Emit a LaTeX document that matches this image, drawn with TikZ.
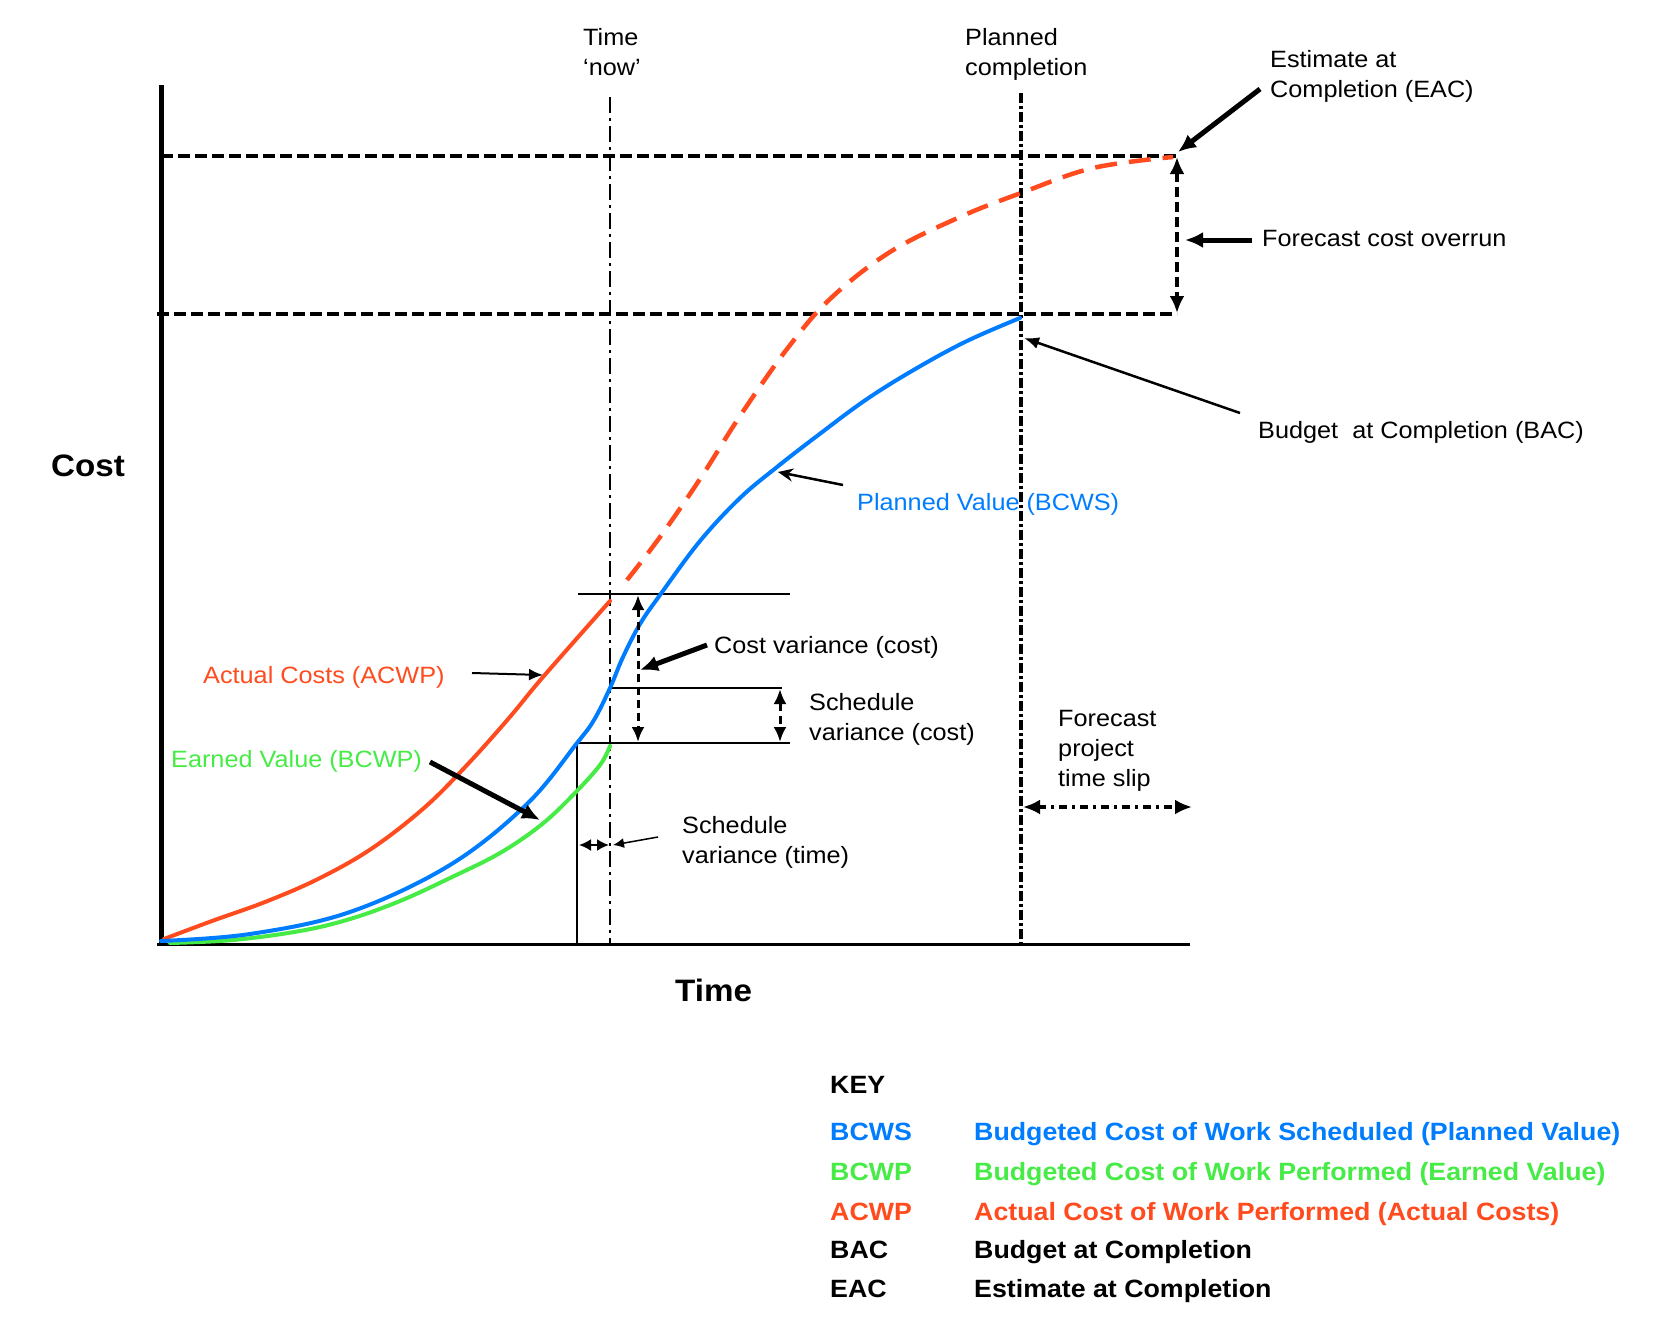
\documentclass[tikz,border=0pt]{standalone}
\usepackage{fontspec}
\setmainfont[FakeStretch=1.07]{Liberation Sans}
\usetikzlibrary{arrows.meta}
\definecolor{pvblue}{RGB}{0,125,255}
\definecolor{evgreen}{RGB}{70,235,70}
\definecolor{acred}{RGB}{255,75,30}
\begin{document}
\begin{tikzpicture}[x=1pt,y=-1pt,
    lbl/.style={inner sep=0pt, anchor=base west, align=left, font=\fontsize{23.6}{30}\selectfont},
    axlbl/.style={inner sep=0pt, anchor=base west, font=\fontsize{31}{36}\selectfont\bfseries},
    keytxt/.style={inner sep=0pt, anchor=base west, font=\fontsize{25}{30}\selectfont\bfseries},
    fatarrow/.style={line width=5pt, -{Latex[length=18pt,width=16pt]}},
    thinarrow/.style={line width=2.5pt, -{Latex[length=15pt,width=12pt]}},
    level/.style={line width=4.5pt, dash pattern=on 12pt off 5pt},
    vararrow/.style={line width=3pt, dash pattern=on 8pt off 5pt, {Latex[length=15pt,width=13pt]}-{Latex[length=15pt,width=13pt]}},
    curve/.style={line width=4pt, line cap=round}]
  \useasboundingbox (0,0) rectangle (1663,1336);

  % axes and time markers
  \draw[line width=5pt] (161,85) -- (161,944);
  \draw[line width=3pt] (157,944) -- (1190,944);
  \draw[line width=2.5pt, dash pattern=on 16pt off 5pt on 3pt off 5pt] (610,97) -- (610,944);
  \draw[line width=4.5pt, dash pattern=on 10pt off 3pt on 3pt off 3pt] (1021,93) -- (1021,944);
  \draw[level] (161,156) -- (1177,156);
  \draw[level] (157,314) -- (1177,314);
  \draw[line width=2pt] (578,594) -- (790,594);
  \draw[line width=2pt] (610,688) -- (782,688);
  \draw[line width=2pt] (577,944) -- (577,743) -- (790,743);

  % curves
  \draw[curve, acred] plot[smooth, tension=0.6] coordinates {(164,939) (212,921) (265,902) (318,879) (371,849) (424,808) (467,765) (509,718) (543,677) (610,601)};
  \draw[curve, acred, line cap=butt, line width=4.5pt, dash pattern=on 22pt off 12pt] plot[smooth, tension=0.6] coordinates {(627,580) (660,537) (700,479) (740,416) (787,349) (830,299) (890,252) (960,217) (1021,193) (1093,168) (1173,157)};
  \draw[curve, evgreen] plot[smooth, tension=0.6] coordinates {(170,943) (233,940) (300,931) (350,919) (400,901) (450,878) (500,853) (541,825) (573,795) (600,765) (610,746)};
  \draw[curve, pvblue] plot[smooth, tension=0.6] coordinates {(161,941) (250,934) (350,912) (450,865) (527,804) (577,743) (594,720) (610,688) (623,657) (640,624) (660,595) (700,541) (740,498) (777,467) (817,436) (867,399) (917,368) (967,341) (1020,318)};

  % labels
  \node[axlbl] (cost) at (51,476) {Cost};
  \node[axlbl] (time) at (675,1001) {Time};
  \node[lbl] (now) at (583,75) {Time\\‘now’};
  \node[lbl] (plan) at (965,75) {Planned\\completion};
  \node[lbl] (eac) at (1270,97) {Estimate at\\Completion (EAC)};
  \node[lbl] (over) at (1262,246) {Forecast cost overrun};
  \node[lbl] (bac) at (1258,438) {Budget\ \ at Completion (BAC)};
  \node[lbl, pvblue] (pv) at (857,510) {Planned Value (BCWS)};
  \node[lbl] (cv) at (714,653) {Cost variance (cost)};
  \node[lbl] (svc) at (809,740) {Schedule\\variance (cost)};
  \node[lbl, acred] (ac) at (203,683) {Actual Costs (ACWP)};
  \node[lbl, evgreen] (ev) at (171,767) {Earned Value (BCWP)};
  \node[lbl] (svt) at (682,863) {Schedule\\variance (time)};
  \node[lbl] (slip) at (1058,786) {Forecast\\project\\time slip};

  % arrow ends
  \coordinate (eacT) at (1260,89);   \coordinate (eacH) at (1178,152);
  \coordinate (overT) at (1252,240); \coordinate (overH) at (1185,240);
  \coordinate (bacT) at (1240,413);  \coordinate (bacH) at (1024,338);
  \coordinate (pvT) at (843,485);    \coordinate (pvH) at (778,472);
  \coordinate (cvT) at (707,645);    \coordinate (cvH) at (640,670);
  \coordinate (acT) at (472,673);    \coordinate (acH) at (543,675);
  \coordinate (evT) at (430,762);    \coordinate (evH) at (540,820);
  \coordinate (svtT) at (658,837);   \coordinate (svtH) at (613,845);
  \coordinate (eacA) at (1177,157);  \coordinate (bacA) at (1177,313);
  \coordinate (cvA) at (638,595);    \coordinate (cvB) at (638,742);
  \coordinate (svA) at (780,689);    \coordinate (svB) at (780,742);
  \coordinate (svtA) at (579,845);   \coordinate (svtB) at (609,845);
  \coordinate (slipA) at (1023,807); \coordinate (slipB) at (1192,807);

  \draw[fatarrow] (eacT) -- (eacH);
  \draw[fatarrow] (overT) -- (overH);
  \draw[thinarrow] (bacT) -- (bacH);
  \draw[line width=2.5pt, -{Stealth[length=15pt,width=13pt]}] (pvT) -- (pvH);
  \draw[fatarrow] (cvT) -- (cvH);
  \draw[line width=2pt, -{Latex[length=14pt,width=12pt]}] (acT) -- (acH);
  \draw[fatarrow] (evT) -- (evH);
  \draw[line width=1.5pt, -{Latex[length=11pt,width=10pt]}] (svtT) -- (svtH);
  \draw[line width=4pt, dash pattern=on 10pt off 5pt, {Latex[length=17pt,width=15pt]}-{Latex[length=17pt,width=15pt]}] (eacA) -- (bacA);
  \draw[vararrow] (cvA) -- (cvB);
  \draw[vararrow] (svA) -- (svB);
  \draw[line width=2pt, {Latex[length=12pt,width=12pt]}-{Latex[length=12pt,width=12pt]}] (svtA) -- (svtB);
  \draw[line width=4pt, dash pattern=on 8pt off 5pt on 3pt off 5pt, {Latex[length=17pt,width=15pt]}-{Latex[length=17pt,width=15pt]}] (slipA) -- (slipB);

  % key
  \node[keytxt] (key) at (830,1093) {KEY};
  \node[keytxt, pvblue] (kpv) at (830,1140) {BCWS};
  \node[keytxt, pvblue] (dpv) at (974,1140) {Budgeted Cost of Work Scheduled (Planned Value)};
  \node[keytxt, evgreen] (kev) at (830,1180) {BCWP};
  \node[keytxt, evgreen] (dev) at (974,1180) {Budgeted Cost of Work Performed (Earned Value)};
  \node[keytxt, acred] (kac) at (830,1220) {ACWP};
  \node[keytxt, acred] (dac) at (974,1220) {Actual Cost of Work Performed (Actual Costs)};
  \node[keytxt] (kbac) at (830,1258) {BAC};
  \node[keytxt] (dbac) at (974,1258) {Budget at Completion};
  \node[keytxt] (keac) at (830,1297) {EAC};
  \node[keytxt] (deac) at (974,1297) {Estimate at Completion};
\end{tikzpicture}
\end{document}
